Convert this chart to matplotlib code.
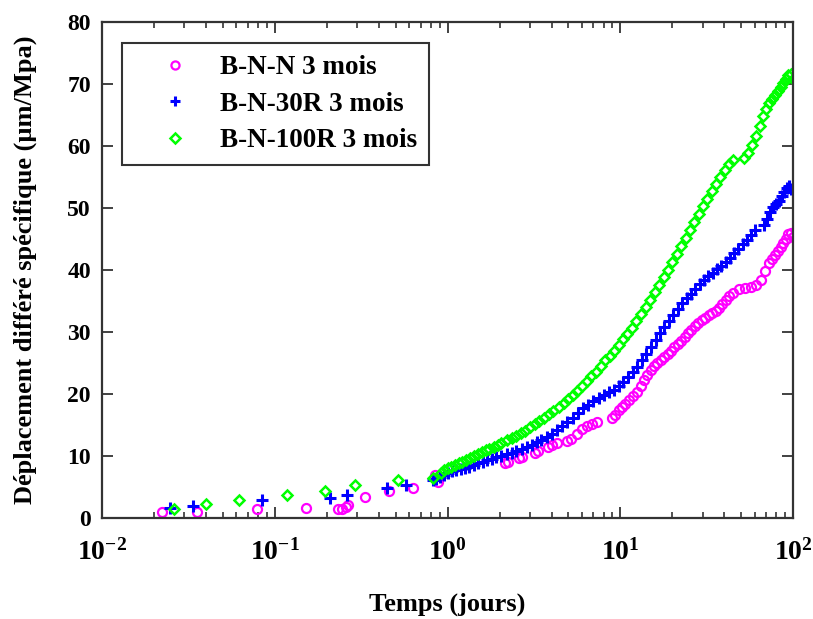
import matplotlib
matplotlib.use("Agg")
import matplotlib.pyplot as plt

plt.rcParams['font.family'] = ['Liberation Serif', 'DejaVu Serif']
plt.rcParams['font.weight'] = 'bold'
plt.rcParams['mathtext.fontset'] = 'custom'
plt.rcParams['mathtext.rm'] = 'Liberation Serif:bold'
plt.rcParams['mathtext.bf'] = 'Liberation Serif:bold'

# B-N-N 3 mois (magenta circles)
bnn_t = [0.0222, 0.0353, 0.0788, 0.151, 0.232, 0.245, 0.26, 0.265, 0.333, 0.458, 0.63,
         0.85, 0.88, 2.15, 2.25, 2.6, 2.7, 3.2, 3.35,
         3.8, 4.0, 4.3, 4.9, 5.2, 5.6, 6.0, 6.4, 6.9, 7.3, 8.9, 9.3, 9.8, 10.2, 10.7,
         11.3, 11.9, 12.5, 13.1, 13.7, 14.3, 15.0, 15.7, 16.4, 17.2, 18.0, 18.8, 19.7,
         20.6, 21.6, 22.6, 23.6, 24.7, 25.8, 27.0, 28.3, 29.6, 31.0, 32.5, 34.0, 35.6,
         37.3, 39.0, 40.8, 42.7, 44.7, 49, 53, 57, 61, 65, 69, 73, 76, 79, 82, 85, 88,
         91, 94, 97, 100]
bnn_d = [1.0, 1.0, 1.4, 1.6, 1.5, 1.5, 1.7, 2.1, 3.4, 4.4, 4.8,
         7.0, 5.8, 8.8, 9.0, 9.6, 9.9, 10.5, 10.8,
         11.4, 11.7, 12.1, 12.4, 12.7, 13.5, 14.3, 14.8, 15.2, 15.5, 16.2, 16.6, 17.4,
         17.9, 18.4, 19.0, 19.7, 20.3, 21.3, 22.3, 23.1, 23.9, 24.5, 25.0, 25.5, 26.0,
         26.5, 27.0, 27.5, 28.0, 28.6, 29.2, 29.8, 30.3, 30.9, 31.4, 31.9, 32.3, 32.7,
         33.1, 33.4, 33.8, 34.5, 35.2, 35.8, 36.3, 36.9, 37.1, 37.3, 37.6, 38.4, 39.8,
         41.1, 41.8, 42.4, 43.0, 43.7, 44.3, 45.0, 45.8, 46.0, 45.3]

# B-N-30R 3 mois (blue plus)
bn30_t = [0.0248, 0.0337, 0.084, 0.209, 0.263, 0.445, 0.575, 0.82,
          0.86, 0.9, 0.95, 1.0, 1.06, 1.12, 1.19, 1.26, 1.34, 1.42, 1.5, 1.6, 1.7, 1.8,
          1.92, 2.05, 2.2, 2.35, 2.5, 2.7, 2.9, 3.1, 3.3, 3.5, 3.75, 4.0, 4.3, 4.6, 4.9,
          5.3, 5.7, 6.1, 6.5, 7.0, 7.5, 8.0, 8.6, 9.2, 9.8, 10.4, 11.1, 11.8, 12.5, 13.3,
          14.1, 15.0, 16.0, 17.0, 18.0, 19.1, 20.3, 21.5, 22.8, 24.2, 25.7, 27.2, 28.8,
          30.5, 32.3, 34.2, 36.2, 38.4, 40.7, 43.1, 45.6, 48.3, 51.1, 54.0, 57.0, 60.0,
          68, 71, 74, 77, 80, 83, 86, 89, 92, 95, 98, 100]
bn30_d = [1.6, 1.9, 2.9, 3.3, 3.7, 4.8, 5.3, 6.2,
          6.3, 6.6, 6.9, 7.2, 7.5, 7.7, 7.9, 8.1, 8.3, 8.6, 8.8, 9.0, 9.3, 9.5,
          9.8, 10.0, 10.3, 10.5, 10.8, 11.1, 11.4, 11.8, 12.2, 12.6, 13.1, 13.6, 14.2,
          14.8, 15.4, 16.2, 17.0, 17.7, 18.2, 18.8, 19.3, 19.8, 20.3, 20.7, 21.3, 22.0,
          22.8, 23.5, 24.3, 25.4, 26.5, 27.6, 28.7, 29.8, 30.8, 31.8, 32.8, 33.7, 34.6,
          35.4, 36.2, 37.0, 37.7, 38.4, 39.0, 39.5, 40.1, 40.7, 41.3, 42.0, 42.7, 43.4,
          44.2, 44.9, 45.7, 46.5,
          47.2, 48.3, 49.4, 50.1, 50.6, 51.2, 51.9, 52.6, 53.2, 53.5, 53.0, 52.6]

# B-N-100R 3 mois (green diamonds)
bn100_t = [0.0261, 0.040, 0.0624, 0.117, 0.195, 0.292, 0.515, 0.82,
           0.92, 0.96, 1.0, 1.05, 1.1, 1.16, 1.22, 1.28, 1.35, 1.42, 1.5, 1.58, 1.66,
           1.75, 1.85, 1.95, 2.05, 2.2, 2.35, 2.5, 2.65, 2.8, 3.0, 3.2, 3.4, 3.6, 3.85,
           4.1, 4.4, 4.7, 5.0, 5.3, 5.6, 6.0, 6.4, 6.8, 7.2, 7.7, 8.2, 8.7, 9.2, 9.8,
           10.4, 11.0, 11.7, 12.4, 13.2, 14.0, 14.9, 15.8, 16.8, 17.8, 18.9, 20.0, 21.2,
           22.5, 23.9, 25.3, 26.8, 28.4, 30.1, 31.9, 33.8, 35.8, 37.9, 40.2, 42.6, 45.0,
           52, 55, 58, 61, 64, 67, 70, 73, 76, 79, 82, 85, 88, 91, 94, 97, 100]
bn100_d = [1.4, 2.2, 2.9, 3.7, 4.4, 5.3, 6.2, 6.5,
           7.3, 7.7, 8.1, 8.3, 8.6, 8.9, 9.1, 9.4, 9.7, 10.0, 10.3, 10.6, 10.9,
           11.2, 11.5, 11.8, 12.1, 12.5, 12.9, 13.3, 13.7, 14.1, 14.6, 15.1, 15.6, 16.1,
           16.7, 17.2, 17.9, 18.6, 19.2, 19.8, 20.5, 21.3, 22.1, 22.9, 23.6, 24.5, 25.4,
           26.2, 27.0, 27.9, 28.8, 29.7, 30.7, 31.8, 32.9, 34.0, 35.2, 36.4, 37.6, 38.8,
           40.0, 41.3, 42.5, 43.8, 45.1, 46.4, 47.7, 49.0, 50.3, 51.5, 52.7, 53.9, 55.0,
           56.1, 57.1, 57.8,
           58.0, 58.9, 60.2, 61.6, 63.2, 64.8, 66.0, 66.9, 67.6, 68.3, 68.9, 69.5, 70.1,
           70.8, 71.4, 71.6, 70.8]

xticks = [1e-2, 1e-1, 1e0, 1e1, 1e2]
xtick_labels = [r'$\mathbf{10^{-2}}$', r'$\mathbf{10^{-1}}$', r'$\mathbf{10^{0}}$',
                r'$\mathbf{10^{1}}$', r'$\mathbf{10^{2}}$']
yticks = [0, 10, 20, 30, 40, 50, 60, 70, 80]

fig = plt.figure(figsize=(8.13, 6.19), dpi=100)
ax = fig.add_axes([0.1255, 0.1632, 0.8499, 0.8013])

ax.plot(bnn_t, bnn_d, 'o', color='#ff00ff', mfc='none', mew=1.6, ms=6.5,
        label='B-N-N 3 mois')
ax.plot(bn30_t, bn30_d, '+', color='#0000ff', mew=2.2, ms=8,
        label='B-N-30R 3 mois')
ax.plot(bn100_t, bn100_d, 'D', color='#00ff00', mfc='none', mew=1.8, ms=5.5,
        label='B-N-100R 3 mois')

ax.set_xscale('log')
ax.set_xlim(1e-2, 1e2)
ax.set_ylim(0, 80)
ax.set_xticks(xticks)
ax.set_xticklabels(xtick_labels, fontsize=20)
ax.set_yticks(yticks)
ax.set_yticklabels([str(v) for v in yticks], fontsize=17, fontweight='bold')

ax.tick_params(which='both', direction='in', top=True, right=True, colors='#333333',
               labelcolor='black')
ax.tick_params(which='major', length=8, width=1.3)
ax.tick_params(which='minor', length=4.5, width=1.2)
ax.tick_params(axis='x', which='major', pad=15)
ax.tick_params(axis='y', which='major', pad=8)
for s in ax.spines.values():
    s.set_linewidth(1.6)
    s.set_color('#333333')

ax.set_xlabel('Temps (jours)', fontsize=19, fontweight='bold')
ax.xaxis.set_label_coords(0.5, -0.151)
ax.set_ylabel('Déplacement différé spécifique (µm/Mpa)', fontsize=19,
              fontweight='bold')
ax.yaxis.set_label_coords(-0.094, 0.5)

leg = ax.legend(loc='upper left', bbox_to_anchor=(0.029, 0.957), borderaxespad=0,
                fontsize=19.5, handlelength=3.0, handletextpad=0.15, labelspacing=0.42,
                borderpad=0.45, fancybox=False, edgecolor='#333333', framealpha=1,
                markerscale=0.9)
leg.get_frame().set_linewidth(1.5)

fig.savefig('out.png', dpi=100)
